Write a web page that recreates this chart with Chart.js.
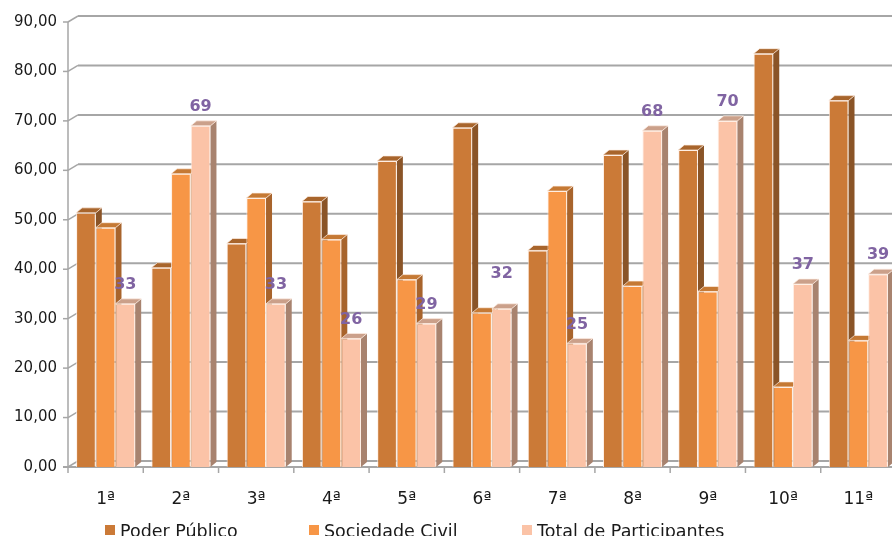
<!DOCTYPE html>
<html>
<head>
<meta charset="utf-8">
<script src="https://cdn.jsdelivr.net/npm/chart.js@4/dist/chart.umd.min.js"></script>
<style>
  html, body { margin: 0; padding: 0; background: #ffffff; overflow: hidden; }
  #wrap { width: 900px; height: 536px; }
</style>
</head>
<body>
<div id="wrap"><canvas id="c" width="900" height="536"></canvas></div>
<script>
// Editions of the conference
const categories = ['1ª', '2ª', '3ª', '4ª', '5ª', '6ª', '7ª', '8ª', '9ª', '10ª', '11ª'];

// Attendance per edition, by group
const poderPublico     = [51.4, 40.3, 45.2, 53.7, 61.9, 68.6, 43.8, 63.1, 64.1, 83.6, 74.1];
const sociedadeCivil   = [48.4, 59.3, 54.4, 46.0, 37.9, 31.2, 55.8, 36.6, 35.5, 16.2, 25.6];
const totalParticipantes = [33, 69, 33, 26, 29, 32, 25, 68, 70, 37, 39];

const seriesNames = ['Poder Público', 'Sociedade Civil', 'Total de Participantes'];
const yTicks = [0, 10, 20, 30, 40, 50, 60, 70, 80, 90];

const FONT = '"DejaVu Sans", Verdana, sans-serif';
const palette = [
  { front: '#CB7A37', side: '#8A5427', top: '#A8652C' },
  { front: '#F79646', side: '#A8642C', top: '#C57934' },
  { front: '#FBC3A7', side: '#A8836F', top: '#CBA08A' }
];
const DEPTH_X = 6, DEPTH_Y = 5;     // bar extrusion
const WALL_X = 10, WALL_Y = 6;      // back wall offset
const GRID = '#A6A6A6';

// walls, grid and the extruded sides/tops of every bar
const box3d = {
  id: 'box3d',
  beforeDatasetsDraw(chart) {
    const ctx = chart.ctx;
    const y = chart.scales.y;
    const left = chart.chartArea.left, right = chart.chartArea.right;
    ctx.save();
    ctx.strokeStyle = GRID;
    yTicks.forEach(v => {
      const py = y.getPixelForValue(v);
      ctx.lineWidth = 2;
      ctx.beginPath();
      ctx.moveTo(left + WALL_X, py - WALL_Y);
      ctx.lineTo(right + WALL_X, py - WALL_Y);
      ctx.stroke();
      ctx.lineWidth = 1.5;
      ctx.beginPath();
      ctx.moveTo(left, py);
      ctx.lineTo(left + WALL_X, py - WALL_Y);
      ctx.stroke();
      ctx.beginPath();
      ctx.moveTo(left - 5, py);
      ctx.lineTo(left, py);
      ctx.stroke();
    });
    // front vertical axis
    ctx.lineWidth = 1.5;
    ctx.beginPath();
    ctx.moveTo(left, y.getPixelForValue(yTicks[yTicks.length - 1]));
    ctx.lineTo(left, y.getPixelForValue(0));
    ctx.stroke();
    // front floor edge with category ticks
    const py0 = y.getPixelForValue(0);
    ctx.lineWidth = 2;
    ctx.beginPath();
    ctx.moveTo(left - 5, py0);
    ctx.lineTo(right + WALL_X, py0);
    ctx.stroke();
    ctx.lineWidth = 1.5;
    const step = (right - left) / categories.length;
    for (let i = 0; i <= categories.length; i++) {
      const tx = left + step * i;
      ctx.beginPath();
      ctx.moveTo(tx, py0);
      ctx.lineTo(tx, py0 + 6);
      ctx.stroke();
    }

    // extruded faces
    chart.data.datasets.forEach((ds, di) => {
      const meta = chart.getDatasetMeta(di);
      const col = palette[di];
      meta.data.forEach(bar => {
        const p = bar.getProps(['x', 'y', 'base', 'width'], true);
        const L = p.x - p.width / 2, R = p.x + p.width / 2;
        const T = p.y, B = p.base;
        ctx.fillStyle = col.side;
        ctx.beginPath();
        ctx.moveTo(R, T);
        ctx.lineTo(R + DEPTH_X, T - DEPTH_Y);
        ctx.lineTo(R + DEPTH_X, B - DEPTH_Y);
        ctx.lineTo(R, B);
        ctx.closePath();
        ctx.fill();
        ctx.fillStyle = col.top;
        ctx.beginPath();
        ctx.moveTo(L, T);
        ctx.lineTo(L + DEPTH_X, T - DEPTH_Y);
        ctx.lineTo(R + DEPTH_X, T - DEPTH_Y);
        ctx.lineTo(R, T);
        ctx.closePath();
        ctx.fill();
        ctx.strokeStyle = 'rgba(255,240,230,0.7)';
        ctx.lineWidth = 1;
        ctx.stroke();
      });
    });
    ctx.restore();
  },
  afterDatasetsDraw(chart) {
    // value labels on the total series
    const ctx = chart.ctx;
    const meta = chart.getDatasetMeta(2);
    ctx.save();
    ctx.font = 'bold 16px ' + FONT;
    ctx.fillStyle = '#8064A2';
    ctx.textAlign = 'center';
    ctx.textBaseline = 'middle';
    meta.data.forEach((bar, i) => {
      const p = bar.getProps(['x', 'y'], true);
      const lift = i === 5 ? 35 : 19;
      ctx.fillText(String(Math.round(totalParticipantes[i])), p.x, p.y - lift);
    });
    ctx.restore();
  },
  afterDraw(chart) {
    // legend row along the bottom edge
    const ctx = chart.ctx;
    const starts = [105, 309, 522];
    ctx.save();
    ctx.font = '17.5px ' + FONT;
    ctx.textBaseline = 'alphabetic';
    seriesNames.forEach((name, i) => {
      ctx.fillStyle = palette[i].front;
      ctx.fillRect(starts[i], 525, 10, 10);
      ctx.fillStyle = '#1A1A1A';
      ctx.fillText(name, starts[i] + 15, 536.5);
    });
    ctx.restore();
  }
};

new Chart(document.getElementById('c'), {
  type: 'bar',
  data: {
    labels: categories,
    datasets: [
      { label: seriesNames[0], data: poderPublico, backgroundColor: palette[0].front },
      { label: seriesNames[1], data: sociedadeCivil, backgroundColor: palette[1].front },
      { label: seriesNames[2], data: totalParticipantes, backgroundColor: palette[2].front }
    ].map(d => Object.assign(d, {
      borderColor: 'rgba(255,236,224,0.85)',
      borderWidth: 1,
      borderSkipped: 'bottom',
      categoryPercentage: 0.785,
      barPercentage: 1.0
    }))
  },
  options: {
    responsive: false,
    animation: false,
    devicePixelRatio: 1,
    layout: { padding: { top: 22, right: 4, left: 0, bottom: 0 } },
    plugins: { legend: { display: false }, tooltip: { enabled: false } },
    scales: {
      x: {
        grid: { display: false, drawTicks: false },
        border: { display: false },
        ticks: { color: '#1A1A1A', font: { family: FONT, size: 17 }, padding: 22 },
        afterFit(s) { s.height = 69; }
      },
      y: {
        min: 0, max: 90,
        grid: { display: false, drawTicks: false },
        border: { display: false },
        ticks: {
          stepSize: 10,
          color: '#1A1A1A',
          font: { family: FONT, size: 15 },
          padding: 11,
          callback: v => v.toFixed(2).replace('.', ',')
        },
        afterFit(s) { s.width = 68; }
      }
    }
  },
  plugins: [box3d]
});
</script>
</body>
</html>
